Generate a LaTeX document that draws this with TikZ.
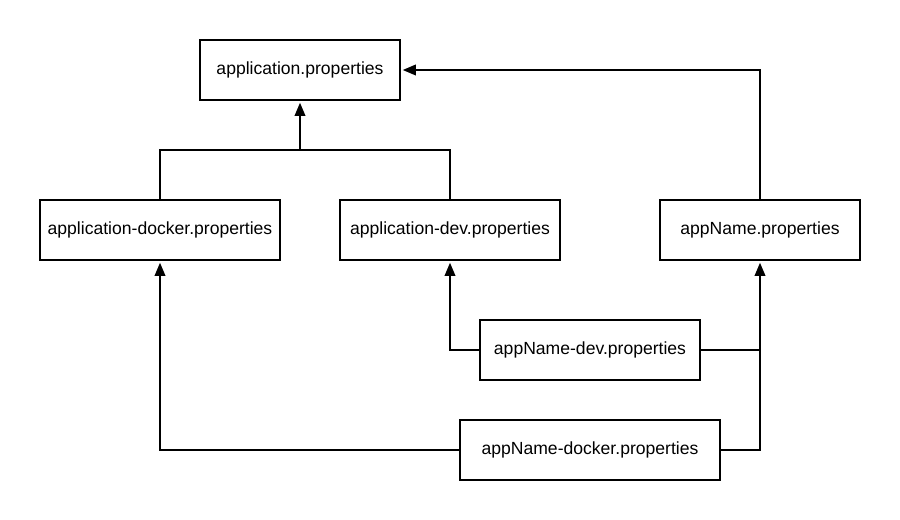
\documentclass[tikz,border=0pt]{standalone}
\usepackage{fontspec}
\setmainfont{Liberation Sans}
\usetikzlibrary{arrows.meta}

\begin{document}
\begin{tikzpicture}[x=0.02cm, y=-0.02cm, >={Triangle[length=7.5pt,width=6pt]},
	font=\fontsize{10pt}{12pt}\selectfont, line join=miter, line width=1.1pt,
	prop/.style={draw, minimum height=1.2cm, inner sep=0pt}]
	\useasboundingbox (0,0) rectangle (900,520);

	% Dateien
	\node[prop, minimum width=4cm] (app) at (300,70) {application.properties};
	\node[prop, minimum width=4.8cm] (appdocker) at (160,230) {application-docker.properties};
	\node[prop, minimum width=4.4cm] (appdev) at (450,230) {application-dev.properties};
	\node[prop, minimum width=4cm] (name) at (760,230) {appName.properties};
	\node[prop, minimum width=4.4cm] (namedev) at (590,350) {appName-dev.properties};
	\node[prop, minimum width=5.2cm] (namedocker) at (590,450) {appName-docker.properties};

	% Verbindungen
	\coordinate (top) at (300,150);
	\draw (appdocker.north) |- (top) -| (appdev.north);
	\draw[->, shorten >=1pt] (top) -- (app.south);
	\draw[->, shorten >=1pt] (name.north) |- (app.east);
	\draw[->, shorten >=1pt] (namedev.west) -| (appdev.south);
	\draw (namedev.east) -- (namedev.east -| name.south);
	\draw[->, shorten >=1pt] (namedocker.west) -| (appdocker.south);
	\draw[->, shorten >=1pt] (namedocker.east) -| (name.south);
\end{tikzpicture}
\end{document}
